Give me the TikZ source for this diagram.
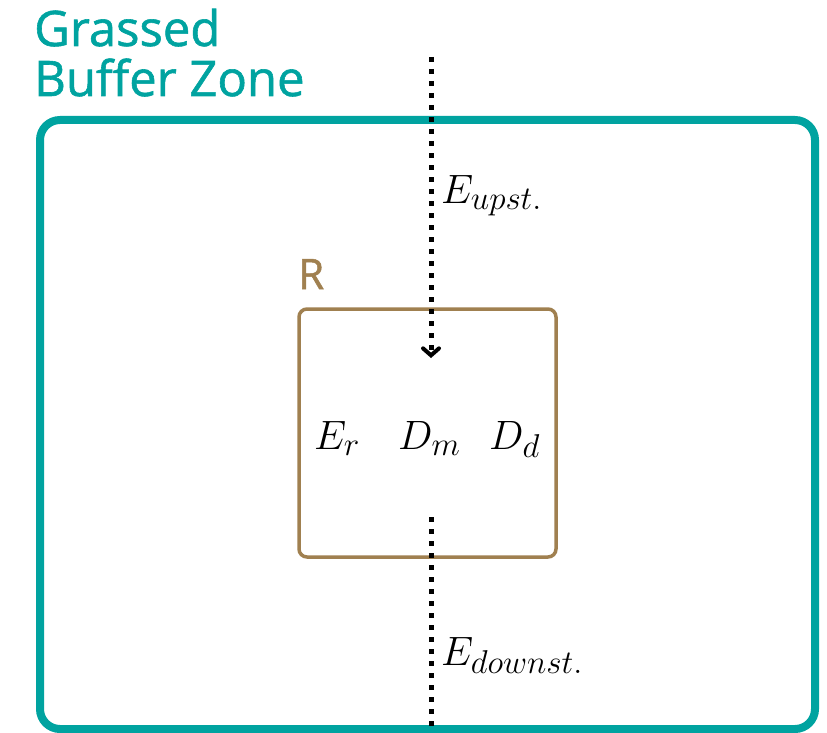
\documentclass[tikz,border=0pt]{standalone}
\usepackage{fix-cm}
\usepackage{fontspec}
\newfontfamily\titlefont[FakeBold=1.2]{Open Sans}
\DeclareMathSizes{41}{41}{33}{26}
\usetikzlibrary{arrows.meta}
\definecolor{teal}{RGB}{0,163,160}
\definecolor{brownc}{RGB}{160,128,80}
\tikzset{
  zone/.style={draw=teal,line width=8pt,rounded corners=20pt},
  region/.style={draw=brownc,line width=3.5pt,rounded corners=8pt},
  flux/.style={line width=5pt,dash pattern=on 5pt off 7pt},
  lbl/.style={inner sep=0pt,anchor=base west,font=\fontsize{41}{44}\selectfont},
}
\begin{document}
\begin{tikzpicture}[x=1pt,y=-1pt]
\useasboundingbox (0,0) rectangle (827,733);
\draw[zone] (40,120) rectangle (815,729);
\node[inner sep=0pt,anchor=base west,align=left,text=teal,font=\titlefont\fontsize{49}{50}\selectfont] (title) at (34,96) {Grassed\\Buffer Zone};
\draw[region] (299,309) rectangle (556,557);
\node[inner sep=0pt,anchor=base west,text=brownc,font=\titlefont\fontsize{42}{44}\selectfont] (R) at (298,289) {R};
\coordinate (utop) at (431,57);
\coordinate (uend) at (431,358);
\draw[flux,-{Straight Barb[length=7pt,width=16pt,line width=4pt,line cap=round]}] (utop) -- (uend);
\coordinate (dtop) at (431,517);
\coordinate (dend) at (431,733);
\draw[flux] (dtop) -- (dend);
\node[lbl] (eu) at (441,203) {$E_{upst.}$};
\node[lbl] (er) at (314,449) {$E_r$};
\node[lbl] (dm) at (398,449) {$D_m$};
\node[lbl] (dd) at (489,449) {$D_d$};
\node[lbl] (ed) at (441,665) {$E_{downst.}$};
\end{tikzpicture}
\end{document}
